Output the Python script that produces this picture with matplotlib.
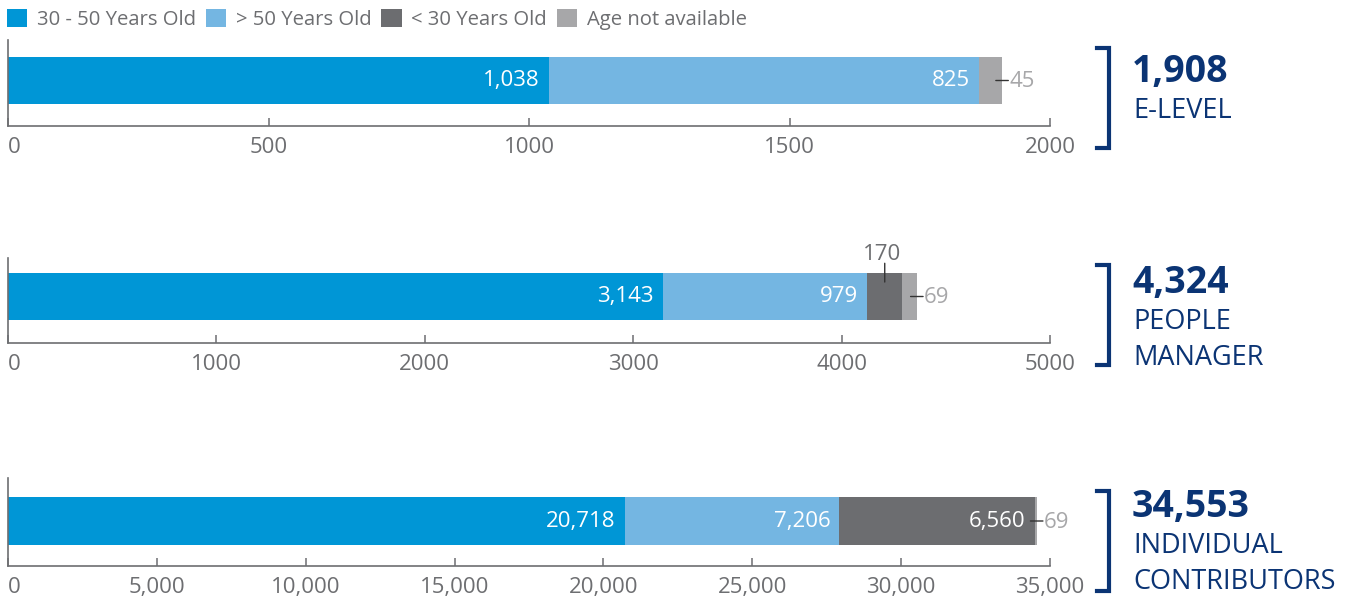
import matplotlib
matplotlib.use("Agg")
import matplotlib.pyplot as plt
import matplotlib.transforms as mtransforms
from matplotlib.patches import Patch
from matplotlib.lines import Line2D

plt.rcParams['font.family'] = ['Open Sans', 'DejaVu Sans']

# ---------------- data ----------------
series_names = ["30 - 50 Years Old", "> 50 Years Old", "< 30 Years Old", "Age not available"]
series_colors = ["#0096D6", "#74B6E2", "#6C6D70", "#A7A7A9"]

groups = [["E-LEVEL"], ["PEOPLE", "MANAGER"], ["INDIVIDUAL", "CONTRIBUTORS"]]
totals = ["1,908", "4,324", "34,553"]

age_30_50 = [1038, 3143, 20718]
age_over_50 = [825, 979, 7206]
age_under_30 = [0, 170, 6560]
age_na = [45, 69, 69]

x_max = [2000, 5000, 35000]
x_ticks = [[0, 500, 1000, 1500, 2000],
           [0, 1000, 2000, 3000, 4000, 5000],
           [0, 5000, 10000, 15000, 20000, 25000, 30000, 35000]]
x_ticklabels = [["0", "500", "1000", "1500", "2000"],
                ["0", "1000", "2000", "3000", "4000", "5000"],
                ["0", "5,000", "10,000", "15,000", "20,000", "25,000", "30,000", "35,000"]]

# ---------------- layout ----------------
W, H = 1349, 599
fig = plt.figure(figsize=(W / 100, H / 100), dpi=100)

GRAY = "#6D6E71"
LIGHT = "#A7A7A9"
NAVY = "#0B3474"

def fx(x):
    return x / W

def fy(y):
    return 1 - y / H

# axes boxes in pixels: (top, bottom), bar center, bar height
ax_px = [(40, 126, 80.5, 47), (258, 343, 296.5, 47), (478, 566, 521, 48)]
bracket_px = [(48, 148), (265, 365), (491, 591)]
total_y = [72, 283, 507]

values = list(zip(age_30_50, age_over_50, age_under_30, age_na))

for i in range(3):
    top, bot, bc, bh = ax_px[i]
    ax = fig.add_axes([fx(8), fy(bot), fx(1050) - fx(8), (bot - top) / H])
    ax.set_xlim(0, x_max[i])
    ax.set_ylim(0, 1)
    yc = (bot - bc) / (bot - top)
    hh = bh / (bot - top)
    left = 0
    vals = values[i]
    for k, v in enumerate(vals):
        ax.barh(yc, v, left=left, height=hh, color=series_colors[k], linewidth=0)
        end = left + v
        if v > 0:
            frac = v / x_max[i]
            if frac > 0.06:
                ax.annotate(f"{v:,}", xy=(end, yc), xytext=(-6.5, 0), textcoords="offset points",
                            ha="right", va="center", color="white", fontsize=16)
            elif k == len(vals) - 1:
                t0 = mtransforms.offset_copy(ax.transData, fig=fig, x=-4.5, y=0, units="points")
                t1 = mtransforms.offset_copy(ax.transData, fig=fig, x=4.5, y=0, units="points")
                ax.annotate("", xy=(end, yc), xycoords=t0, xytext=(end, yc), textcoords=t1,
                            arrowprops=dict(arrowstyle="-", color="#333333", lw=1.0,
                                            shrinkA=0, shrinkB=0))
                ax.annotate(f"{v:,}", xy=(end, yc), xytext=(5, -1), textcoords="offset points",
                            ha="left", va="center", color=LIGHT, fontsize=16)
            else:
                mid = left + v / 2
                ytop = yc + hh / 2
                t0 = mtransforms.offset_copy(ax.transData, fig=fig, x=0, y=-6.5, units="points")
                t1 = mtransforms.offset_copy(ax.transData, fig=fig, x=0, y=7, units="points")
                ax.annotate("", xy=(mid, ytop), xycoords=t0, xytext=(mid, ytop), textcoords=t1,
                            arrowprops=dict(arrowstyle="-", color="#333333", lw=1.0,
                                            shrinkA=0, shrinkB=0))
                ax.annotate(f"{v:,}", xy=(mid, ytop), xytext=(-2, 13.5), textcoords="offset points",
                            ha="center", va="center", color=GRAY, fontsize=16)
        left = end

    for s in ["top", "right"]:
        ax.spines[s].set_visible(False)
    for s in ["left", "bottom"]:
        ax.spines[s].set_color(GRAY)
        ax.spines[s].set_linewidth(1.2)
    ax.set_yticks([])
    ax.set_xticks(x_ticks[i])
    ax.set_xticklabels(x_ticklabels[i])
    ax.tick_params(axis="x", direction="in", length=6, width=1.1, color=GRAY,
                   labelcolor=GRAY, labelsize=16, pad=8)
    ax.get_xticklabels()[0].set_horizontalalignment("left")

    # bracket
    b0, b1 = bracket_px[i]
    fig.add_artist(Line2D([fx(1097), fx(1109), fx(1109), fx(1097)],
                          [fy(b0), fy(b0), fy(b1), fy(b1)],
                          color=NAVY, lw=3, solid_joinstyle="miter"))
    fig.text(fx(1132), fy(total_y[i]), totals[i], color=NAVY, fontsize=27,
             fontweight="bold", ha="left", va="center")
    for j, line in enumerate(groups[i]):
        fig.text(fx(1133), fy(total_y[i] + 39 + 36 * j), line, color=NAVY, fontsize=19.5,
                 ha="left", va="center")

handles = [Patch(facecolor=c, edgecolor="none") for c in series_colors]
fig.legend(handles, series_names, loc="upper left", bbox_to_anchor=(fx(7), fy(9)),
           ncol=4, frameon=False, fontsize=14.6, labelcolor=GRAY,
           handlelength=1.0, handleheight=1.0, handletextpad=0.48, columnspacing=0.48,
           borderaxespad=0, borderpad=0)

fig.savefig("out.png", dpi=100)
